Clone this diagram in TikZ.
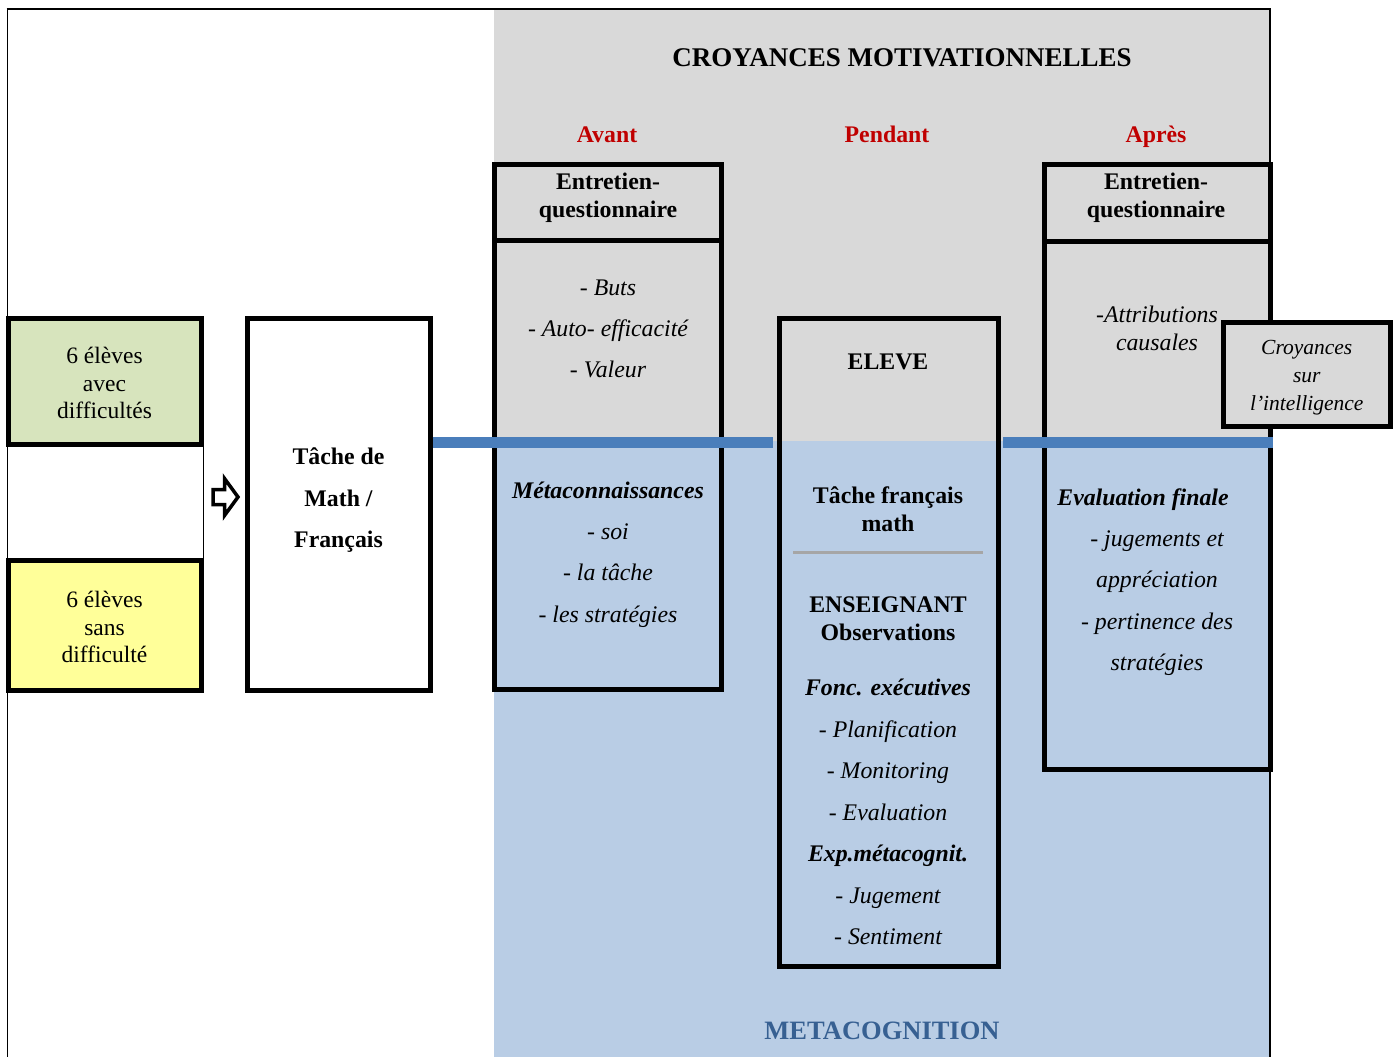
\documentclass[tikz,border=0pt]{standalone}
\usepackage{fontspec}
\setmainfont{Liberation Serif}
\definecolor{bggray}{HTML}{D9D9D9}
\definecolor{bgblue}{HTML}{B9CDE5}
\definecolor{lineblue}{HTML}{4A7EBB}
\definecolor{darkred}{HTML}{C00000}
\definecolor{metablue}{HTML}{376092}
\definecolor{greenfill}{HTML}{D7E4BD}
\definecolor{yellowfill}{HTML}{FFFF99}
\definecolor{sepgray}{HTML}{A6A6A6}
\begin{document}
\begin{tikzpicture}[x=1pt,y=-1pt,
  box/.style={draw=black,line width=5pt,inner sep=0pt,rectangle},
  base/.style={inner sep=0pt,align=center},
  nrm/.style={base,font=\fontsize{23.5}{27.5}\selectfont},
  bnrm/.style={base,font=\fontsize{23.8}{28}\selectfont\bfseries},
  inrm/.style={base,font=\fontsize{23.8}{28}\selectfont\itshape},
  bwide/.style={base,font=\fontsize{23.8}{41.5}\selectfont\bfseries},
  iwide/.style={base,font=\fontsize{23.8}{41.3}\selectfont\itshape},
  phase/.style={base,anchor=base,text=darkred,font=\fontsize{23.8}{28}\selectfont\bfseries},
  blueline/.style={draw=lineblue,line width=11pt},
]
\useasboundingbox (0,0) rectangle (1398,1057);

% background bands
\fill[bggray] (494,10) rectangle (1270,441);
\fill[bgblue] (494,441) rectangle (1270,1057);

% outer frame
\draw[line width=1.5pt] (7.5,9) -- (7.5,1057);
\draw[line width=2.5pt] (6.5,9) -- (1270,9) -- (1270,1057);

% title and phases
\node[base,font=\fontsize{27}{30}\selectfont\bfseries] (title) at (902,58) {CROYANCES MOTIVATIONNELLES};
\node[phase] (avant) at (607,142) {Avant};
\node[phase] (pendant) at (887,142) {Pendant};
\node[phase] (apres) at (1156,142) {Après};

% student groups
\draw[line width=1pt] (203,446) -- (203,558);
\node[box,fill=greenfill,minimum width=193pt,minimum height=126pt] (grpA) at (104.5,381) {};
\node[nrm] (grpAtxt) at (104.5,383) {6 élèves\\avec\\difficultés};
\node[box,fill=yellowfill,minimum width=193pt,minimum height=130pt] (grpB) at (104.5,625) {};
\node[nrm] (grpBtxt) at (104.5,627) {6 élèves\\sans\\difficulté};

% open arrow towards the task
\draw[line width=3.5pt,fill=white,line join=miter]
  (213,489.5) -- (224.5,489.5) -- (224.5,478.5) -- (238,497) -- (224.5,515.5)
  -- (224.5,504.5) -- (213,504.5) -- cycle;

% task box
\node[box,fill=white,minimum width=183pt,minimum height=372pt] (tache) at (338.5,504) {};
\node[bwide] (tachetxt) at (338.5,500.5) {Tâche de\\Math /\\Français};

% "avant" column
\node[box,minimum width=227pt,minimum height=76.5pt] (avtop) at (608,202.25) {};
\node[box,minimum width=227pt,minimum height=448.5pt] (avbot) at (608,464.75) {};
\node[bnrm] (avtoptxt) at (608,198) {Entretien-\\questionnaire};
\node[iwide] (avmotiv) at (608,329) {- Buts\\- Auto- efficacité\\- Valeur};
\node[iwide] (avmeta) at (608,554.5) {\textbf{Métaconnaissances}\\- soi\\- la tâche\\- les stratégies};

% "pendant" column
\node[box,minimum width=219pt,minimum height=648pt] (eleve) at (888.5,642) {};
\node[bnrm] (elevetxt) at (888,362) {ELEVE};
\node[bnrm] (tachefr) at (888,509.5) {Tâche français\\math};
\draw[draw=sepgray,line width=3pt] (793,552) -- (983,552);
\node[bnrm] (enseignant) at (888,619) {ENSEIGNANT\\Observations};
\node[base,font=\fontsize{23.8}{41.5}\selectfont\itshape] (observ) at (888,812)
  {\textbf{Fonc. exécutives}\\- Planification\\- Monitoring\\- Evaluation\\\textbf{Exp.métacognit.}\\- Jugement\\- Sentiment};

% "apres" column
\node[box,minimum width=226pt,minimum height=77pt] (aptop) at (1157,202.5) {};
\node[box,minimum width=226pt,minimum height=528pt] (apbot) at (1157,505) {};
\node[bnrm] (aptoptxt) at (1156,198) {Entretien-\\questionnaire};
\node[inrm] (attrib) at (1157,328) {-Attributions\\causales};
\node[base,font=\fontsize{23.8}{28}\selectfont\bfseries\itshape] (evalfin) at (1143,499.5) {Evaluation finale};
\node[iwide] (evallist) at (1157,603) {- jugements et\\appréciation\\- pertinence des\\stratégies};

% beliefs about intelligence
\node[box,fill=bggray,minimum width=167.5pt,minimum height=104pt] (croy) at (1306.75,374) {};
\node[base,font=\fontsize{21.5}{28}\selectfont\itshape] (croytxt) at (1306.75,378)
  {Croyances\\sur\\l’intelligence};

% boundary between motivation and metacognition
\coordinate (lvl) at (0,442.5);
\draw[blueline,shorten >=3.5pt] (tache.east |- lvl) -- (eleve.west |- lvl);
\draw[blueline,shorten <=2.5pt] (eleve.east |- lvl) -- (apbot.east |- lvl);

\node[base,text=metablue,font=\fontsize{26.5}{30}\selectfont\bfseries] (metacog) at (882,1031) {METACOGNITION};
\end{tikzpicture}
\end{document}
